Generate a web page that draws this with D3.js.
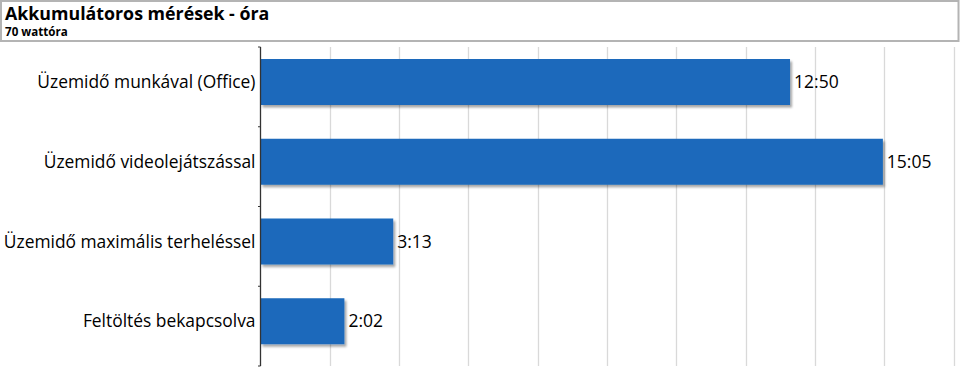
<!DOCTYPE html>
<html>
<head>
<meta charset="utf-8">
<script src="https://cdn.jsdelivr.net/npm/d3@7"></script>
<style>
  html, body { margin: 0; padding: 0; background: #fff; }
  svg { display: block; }
  text { font-family: "Open Sans", "Noto Sans", sans-serif; }
</style>
</head>
<body>
<svg id="chart" width="960" height="380"></svg>
<script>
// ---- data ----
const title = "Akkumulátoros mérések - óra";
const subtitle = "70 wattóra";
const categories = [
  "Üzemidő munkával (Office)",
  "Üzemidő videolejátszással",
  "Üzemidő maximális terheléssel",
  "Feltöltés bekapcsolva"
];
const valueMinutes = [770, 905, 193, 122];          // 12:50, 15:05, 3:13, 2:02
const valueLabels = ["12:50", "15:05", "3:13", "2:02"];
const axisMaxMinutes = 1008;                        // 0.7 day
const gridStepMinutes = 100.8;                      // 0.07 day

const data = categories.map((c, i) => ({ cat: c, v: valueMinutes[i], label: valueLabels[i] }));

const svg = d3.select("#chart");

// title box
svg.append("rect")
  .attr("x", 1).attr("y", 1).attr("width", 957.5).attr("height", 40)
  .attr("fill", "#fff").attr("stroke", "#b4b4b4").attr("stroke-width", 2);
svg.append("text").attr("x", 5).attr("y", 19.5)
  .attr("font-size", 17.8).attr("font-weight", "bold").attr("fill", "#000")
  .text(title);
svg.append("text").attr("x", 5).attr("y", 36)
  .attr("font-size", 11.6).attr("font-weight", "bold").attr("fill", "#000")
  .text(subtitle);

// scales
const x0 = 260.5, x1 = 953.7, yTop = 47, yBot = 366;
const x = d3.scaleLinear().domain([0, axisMaxMinutes]).range([x0, x1]);
const y = d3.scaleBand().domain(categories).range([yTop, yBot]).paddingInner(0).paddingOuter(0);

// shadow filter
const defs = svg.append("defs");
const f = defs.append("filter").attr("id", "sh").attr("x", "-5%").attr("y", "-20%").attr("width", "115%").attr("height", "150%");
f.append("feDropShadow").attr("dx", 2).attr("dy", 2.5).attr("stdDeviation", 1.3)
  .attr("flood-color", "#000").attr("flood-opacity", 0.35);

// gridlines
const gridVals = d3.range(1, 11).map(i => i * gridStepMinutes);
svg.append("g").selectAll("line").data(gridVals).join("line")
  .attr("x1", d => Math.round(x(d)) + 0.5).attr("x2", d => Math.round(x(d)) + 0.5)
  .attr("y1", yTop).attr("y2", yBot)
  .attr("stroke", "#d9d9d9").attr("stroke-width", 1.3);

// bars
const barH = 46;
const barOff = 12;
svg.append("g").selectAll("rect").data(data).join("rect")
  .attr("x", x(0)).attr("y", d => y(d.cat) + barOff)
  .attr("width", d => x(d.v) - x(0)).attr("height", barH)
  .attr("fill", "#1b69bb").attr("filter", "url(#sh)");

// value labels
svg.append("g").selectAll("text").data(data).join("text")
  .attr("x", d => x(d.v) + 4).attr("y", d => y(d.cat) + barOff + barH / 2)
  .attr("dy", "0.35em").attr("font-size", 17.5).attr("fill", "#000")
  .text(d => d.label);

// left axis
const ag = svg.append("g").attr("transform", `translate(${x0},0)`);
ag.append("line").attr("x1", 0).attr("x2", 0).attr("y1", yTop).attr("y2", yBot)
  .attr("stroke", "#333").attr("stroke-width", 1.3);
// category boundary ticks
const bounds = categories.map(c => y(c)).concat([yBot]);
ag.selectAll("line.tk").data(bounds).join("line").attr("class", "tk")
  .attr("x1", -2.5).attr("x2", 0).attr("y1", d => d).attr("y2", d => d)
  .attr("stroke", "#333").attr("stroke-width", 1);
ag.selectAll("text.cl").data(data).join("text").attr("class", "cl")
  .attr("x", -5).attr("y", d => y(d.cat) + barOff + barH / 2)
  .attr("dy", "0.35em").attr("text-anchor", "end")
  .attr("font-size", 17.4).attr("fill", "#000")
  .text(d => d.cat);
</script>
</body>
</html>
